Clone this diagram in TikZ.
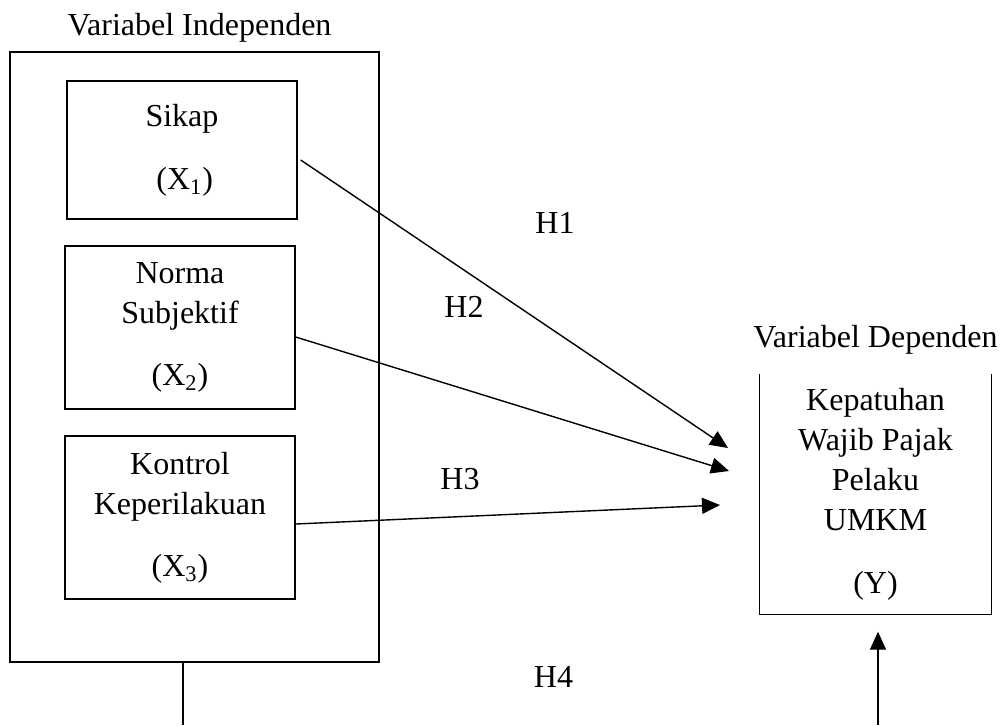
\documentclass[tikz,border=0pt]{standalone}
\usepackage{fontspec}
\setmainfont{Liberation Serif}
\usepackage{tikz}
\usetikzlibrary{arrows.meta, positioning}

\begin{document}
\begin{tikzpicture}[x=0.5pt, y=-0.5pt, line width=0.7pt,
	every node/.style={font=\fontsize{16}{20}\selectfont},
	hyparrow/.style={-{Triangle[length=9pt, width=8pt]}},
	varbox/.style={draw, align=center, inner sep=0pt, minimum width=115pt},
	hlabel/.style={anchor=base}]
		\useasboundingbox (0, 0) rectangle (1003, 725);

		\node[hlabel] (lbl1) at (199.5, 35) {Variabel Independen};
		\node[varbox, minimum width=184.5pt, minimum height=305pt] (indep) at (194.5, 357) {};
		\node[varbox, minimum height=69pt] (sikap) at (182, 150) {Sikap\\[11.5pt]\,(X\textsubscript{1})};
		\node[varbox, minimum height=81.5pt] (norma) at (180, 327.5) {Norma\\Subjektif\\[11pt](X\textsubscript{2})};
		\node[varbox, minimum height=81.5pt] (kontrol) at (180, 517.5) {Kontrol\\Keperilakuan\\[11pt](X\textsubscript{3})};

		\node[hlabel] (lbl2) at (875.5, 347) {Variabel Dependen};
		\node[align=center, inner sep=0pt, minimum width=115.5pt, minimum height=119.5pt] (dep) at (875.5, 494.5)
			{Kepatuhan\\Wajib Pajak\\Pelaku\\UMKM\\[11.5pt](Y)};
		\draw (dep.north west) -- (dep.south west) -- (dep.south east) -- (dep.north east);

		\node[hlabel] (h1) at (555, 233) {H1};
		\node[hlabel] (h2) at (464, 317) {H2};
		\node[hlabel] (h3) at (460, 489) {H3};
		\node[hlabel] (h4) at (553.5, 687) {H4};

		\coordinate (t1) at (728, 448);
		\coordinate (t2) at (729, 471);
		\coordinate (t3) at (720, 505);
		\coordinate (b1) at (183, 725);
		\coordinate (b2) at (878, 725);

		\draw[hyparrow] ([shift={(3, 10)}]sikap.east) -- (t1);
		\draw[hyparrow] ([shift={(0, 9.5)}]norma.east) -- (t2);
		\draw[hyparrow] ([shift={(0, 6.5)}]kontrol.east) -- (t3);
		\draw (b1 |- indep.south) -- (b1);
		\draw[hyparrow, shorten >=8.5pt] (b2) -- (b2 |- dep.south);
	\end{tikzpicture}
\end{document}
